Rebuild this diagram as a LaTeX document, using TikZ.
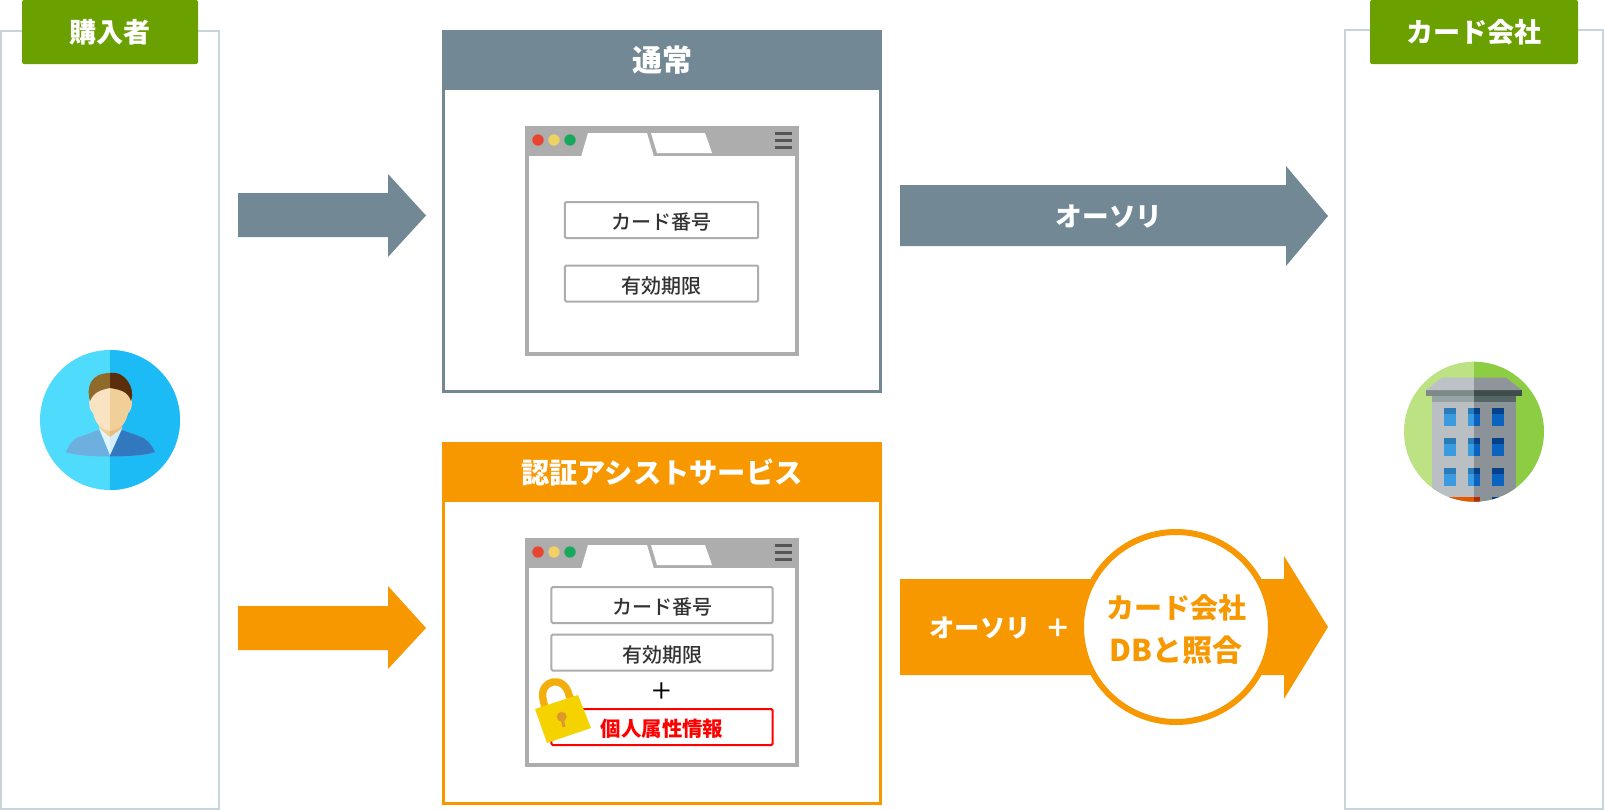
\documentclass[tikz,border=0pt]{standalone}
\usepackage{fontspec}
\setmainfont{Noto Sans CJK JP}
\newfontfamily\jpmed{Noto Sans CJK JP Medium}
\usepackage{xcolor}
\usepackage{tikz}

\definecolor{normalcol}{HTML}{728894}
\definecolor{assistcol}{HTML}{F79800}
\definecolor{partycol}{HTML}{6AA100}
\definecolor{sidecol}{HTML}{C8D4DA}
\definecolor{browsercol}{HTML}{ADADAD}
\definecolor{fieldtext}{HTML}{333333}

\newcommand{\jpsize}[1]{\fontsize{#1}{1.25\dimexpr #1\relax}\selectfont}

\tikzset{
  partybox/.style={fill=partycol, text=white, rounded corners=1.5pt, minimum height=48pt, font=\bfseries\jpsize{20.3pt}},
  sidepanel/.style={draw=sidecol, line width=1.5pt},
  headbox/.style={minimum width=330pt, minimum height=45pt, text=white, inner sep=0pt, text height=18.5pt, text depth=1pt, font=\bfseries\jpsize{21.2pt}},
  mainpanel/.style={fill=white, line width=2.25pt, minimum width=327.75pt, inner sep=0pt},
  fieldbox/.style={draw=browsercol, fill=white, line width=1.5pt, rounded corners=1pt, inner sep=0pt, minimum height=27pt, text height=15pt, text depth=0.6pt, text=fieldtext, font=\jpmed\jpsize{15pt}},
  arrowlabel/.style={text=white, inner sep=0pt, font=\bfseries\jpsize{20pt}},
  HTML/.code={\definecolor{tmpcol}{HTML}{#1}\pgfkeysalso{color=tmpcol}},
  pics/browserwin/.style={code={
    \draw[browsercol, line width=3pt, fill=white] (2,2) rectangle (272,#1-2);
    \fill[browsercol] (0,0) rectangle (274,30);
    \fill[white] (56,31) -- (63,7) -- (122,7) -- (129,31) -- cycle;
    \fill[white] (126,7) -- (180,7) -- (187,27) -- (132,27) -- cycle;
    \fill[HTML=E8442F] (13,14) circle[radius=5.7];
    \fill[HTML=F0D264] (29,14) circle[radius=5.7];
    \fill[HTML=17A85C] (45,14) circle[radius=5.7];
    \foreach \y in {7.5,14.5,21.5}
      \draw[HTML=555555, line width=2.25pt] (249.5,\y) -- (267,\y);
  }},
}

% half of the buyer icon, called once for each shade
\newcommand{\buyerfig}[5]{
  \fill[#4] (66,452) .. controls (70,442) and (76,437) .. (82,436) -- (99,430) -- (110,455) -- (122,430) -- (139,436) .. controls (146,438) and (151,444) .. (155,452) .. controls (140,458) and (80,458) .. (66,452) -- cycle;
  \fill[#5] (99,428) -- (110,455) -- (122,428) -- cycle;
  \fill[#3] (99,424) -- (122,424) -- (122,428) -- (110,437) -- (99,428) -- cycle;
  \fill[#2] (90,398) .. controls (88,404) and (90,411) .. (93,413) .. controls (96,426) and (103,430) .. (110,431) .. controls (118,430) and (125,426) .. (128,413) .. controls (131,411) and (133,404) .. (131,398) -- (120,385) -- (100,385) -- cycle;
  \fill[#1] (90,401) .. controls (86,388) and (90,373) .. (110,373) .. controls (124,370) and (136,388) .. (131,401) .. controls (128,392) and (122,390) .. (110,388) .. controls (100,390) and (94,392) .. (90,401) -- cycle;
}

\begin{document}
\begin{tikzpicture}[x=0.75pt, y=-0.75pt]
  \useasboundingbox (0,0) rectangle (1604,810);

  % side panels
  \draw[sidepanel] (1,31) rectangle (219,809);
  \draw[sidepanel] (1345,30) rectangle (1603,809);
  \node[partybox, minimum width=132pt] (buyertitle) at (110,32) {購入者};
  \node[partybox, minimum width=156pt] (cardtitle) at (1474,32) {カード会社\hspace{4pt}};

  % buyer icon
  \fill[HTML=4FDBFB] (110,420) circle[radius=70];
  \begin{scope}
    \clip (110,340) rectangle (190,500);
    \fill[HTML=1DBBF5] (110,420) circle[radius=70];
  \end{scope}
  \definecolor{hairl}{HTML}{8F6A2A}\definecolor{hairr}{HTML}{5A2E0C}
  \definecolor{facel}{HTML}{F8E4C2}\definecolor{facer}{HTML}{F1CF98}
  \definecolor{coatl}{HTML}{6DB0DF}\definecolor{coatr}{HTML}{3278BF}
  \definecolor{neckl}{HTML}{F1CF98}\definecolor{neckr}{HTML}{E8BC7A}
  \definecolor{collarl}{HTML}{E6F4FC}\definecolor{collarr}{HTML}{D3ECFA}
  \buyerfig{hairl}{facel}{neckl}{coatl}{collarl}
  \begin{scope}
    \clip (110,340) rectangle (190,500);
    \buyerfig{hairr}{facer}{neckr}{coatr}{collarr}
  \end{scope}

  % card company icon
  \begin{scope}
    \clip (1474,431.7) circle[radius=70];
    \fill[HTML=BDE283] (1400,360) rectangle (1474,505);
    \fill[HTML=8CCD43] (1474,360) rectangle (1548,505);
    \fill[HTML=BABFC3] (1432.3,400) rectangle (1474,505);
    \fill[HTML=8B9398] (1474,400) rectangle (1516,505);
    \fill[HTML=96A4A4] (1432.3,395.7) rectangle (1474,401.7);
    \fill[HTML=566666] (1474,395.7) rectangle (1516,401.7);
    \fill[HTML=7E8A88] (1426,390) rectangle (1474,395.7);
    \fill[HTML=3F4C4C] (1474,390) rectangle (1521.7,395.7);
    \fill[HTML=BCC2C6] (1441.7,377.7) -- (1474,377.7) -- (1474,390) -- (1426,390) -- cycle;
    \fill[HTML=8F959A] (1474,377.7) -- (1506,377.7) -- (1521.7,390) -- (1474,390) -- cycle;
    \foreach \y in {407.7,437.7,467.7} {
      \fill[HTML=3A9BE0] (1444,\y) rectangle (1456,\y+18);
      \fill[HTML=2A7CB8] (1444,\y) rectangle (1456,\y+6);
      \fill[HTML=3A9BE0] (1468,\y) rectangle (1474,\y+18);
      \fill[HTML=2A7CB8] (1468,\y) rectangle (1474,\y+6);
      \fill[HTML=0B63C0] (1474,\y) rectangle (1480,\y+18);
      \fill[HTML=063F8A] (1474,\y) rectangle (1480,\y+6);
      \fill[HTML=0B63C0] (1492,\y) rectangle (1504,\y+18);
      \fill[HTML=063F8A] (1492,\y) rectangle (1504,\y+6);
    }
    \fill[HTML=E25A00] (1448,496.7) rectangle (1474,505);
    \fill[HTML=B52A00] (1474,496.7) rectangle (1480,505);
    \fill[HTML=063F8A] (1492,496.7) rectangle (1504,505);
  \end{scope}

  % arrows
  \fill[normalcol] (238,193) -- (388,193) -- (388,174) -- (426,215.5) -- (388,257) -- (388,237) -- (238,237) -- cycle;
  \fill[assistcol] (238,606) -- (388,606) -- (388,586) -- (426,628) -- (388,669) -- (388,650) -- (238,650) -- cycle;
  \fill[normalcol] (900,185) -- (1286,185) -- (1286,166) -- (1328,216) -- (1286,266) -- (1286,246) -- (900,246) -- cycle;
  \fill[assistcol] (900,579) -- (1284,579) -- (1284,556) -- (1328,627) -- (1284,699) -- (1284,675) -- (900,675) -- cycle;
  \node[arrowlabel] (authnormal) at (1109,217) {オーソリ};
  \node[arrowlabel, font=\bfseries\jpsize{19pt}] (authassist) at (1000,628) {オーソリ\hspace{11pt}＋};
  \node[circle, draw=assistcol, fill=white, line width=4.5pt, minimum size=142.5pt, inner sep=0pt, align=center, text=assistcol, font=\bfseries\jpsize{21pt}] (dbcheck) at (1176,627) {\rule{0pt}{21.5pt}カード会社\\[6pt]{\jpsize{22.5pt}DBと照合}};

  % normal flow
  \node[mainpanel, draw=normalcol, minimum height=270pt] (normalpanel) at (662,211.5) {};
  \node[headbox, fill=normalcol, font=\bfseries\jpsize{22.5pt}] (normalhead) at (662,60) {通常};
  \pic at (525,126) {browserwin=230};
  \node[fieldbox, minimum width=145pt] (normalnum) at (661.5,220) {カード番号};
  \node[fieldbox, minimum width=145pt] (normalexp) at (661.5,283.5) {有効期限};

  % assist flow
  \node[mainpanel, draw=assistcol, minimum height=270pt] (assistpanel) at (662,623.5) {};
  \node[headbox, fill=assistcol] (assisthead) at (662,472) {認証アシストサービス};
  \pic at (525,538) {browserwin=229};
  \node[fieldbox, minimum width=166pt] (assistnum) at (662,605) {カード番号};
  \node[fieldbox, minimum width=166pt] (assistexp) at (662,652.5) {有効期限};
  \node[inner sep=0pt, font=\jpmed\jpsize{17pt}] (assistplus) at (662,691) {＋};
  \node[fieldbox, draw=red, minimum width=166pt, text=red, font=\bfseries\jpsize{15.3pt}] (assistinfo) at (662,727) {個人属性情報};

  % lock
  \draw[HTML=F2AE0A, line width=5.5pt] (545,708) -- (543,699) .. controls (539,680) and (564,674) .. (569,695) -- (572,702);
  \fill[HTML=F5D300] (535,709) -- (578,695) -- (591,728) -- (547,743) -- cycle;
  \fill[HTML=DD9A2A] (561.7,716.7) circle[radius=5];
  \draw[HTML=DD9A2A, line width=2.25pt] (561.7,716.7) -- (564,727);
\end{tikzpicture}
\end{document}
